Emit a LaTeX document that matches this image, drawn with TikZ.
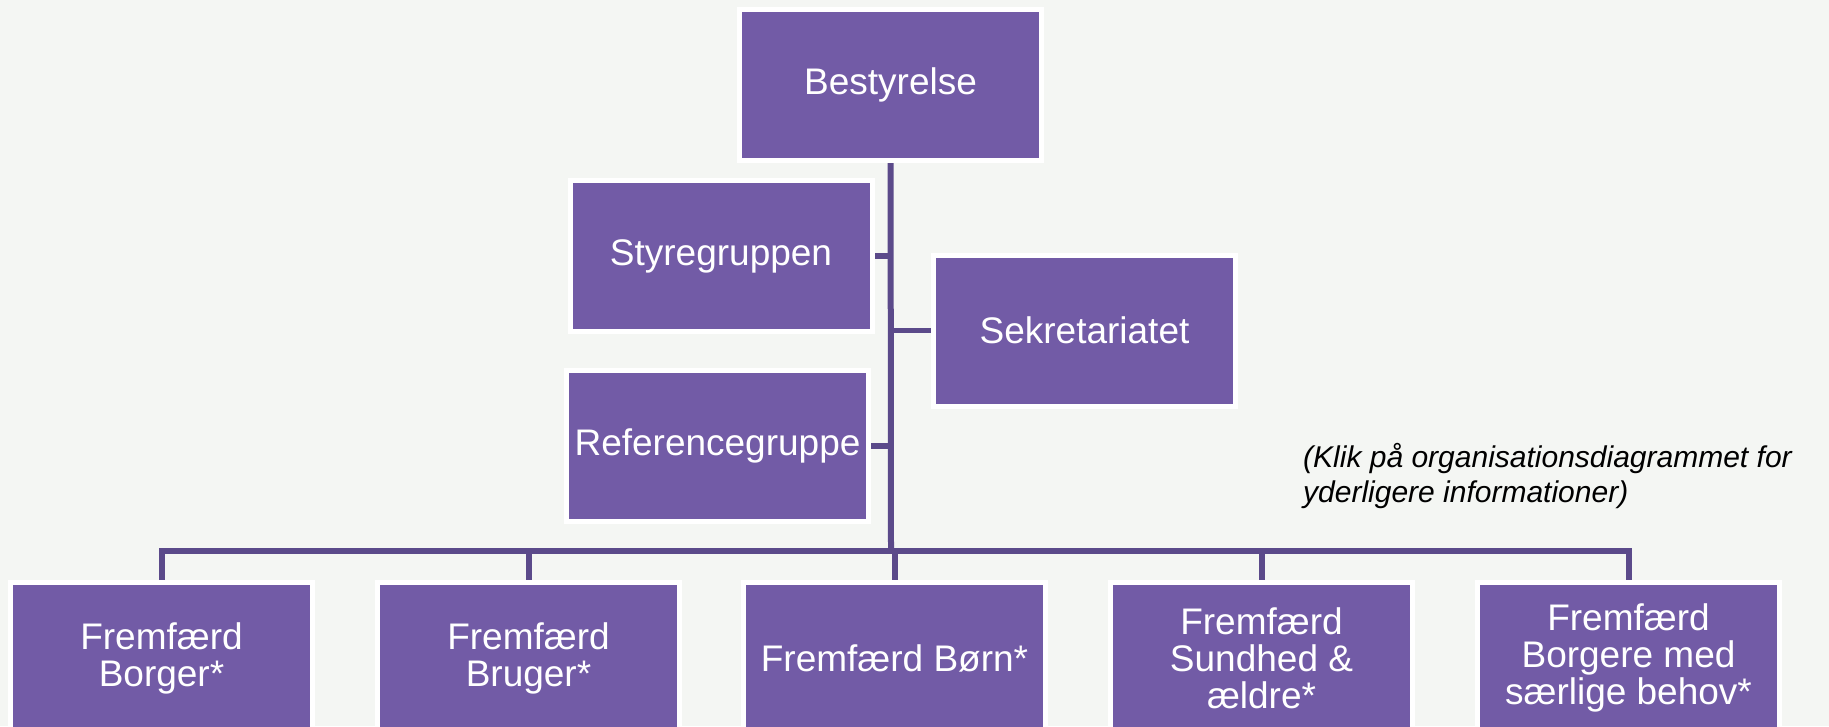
\documentclass[tikz,border=0pt]{standalone}
\usepackage{fontspec}
\setmainfont{Liberation Sans}
\usetikzlibrary{backgrounds}
\definecolor{bg}{HTML}{F4F6F3}
\definecolor{boxfill}{HTML}{725BA6}
\definecolor{conn}{HTML}{5B4A8A}
\begin{document}
\begin{tikzpicture}[x=1pt,y=-1pt,
  orgbox/.style={rectangle, fill=boxfill, draw=white, line width=5pt,
    minimum width=302pt, minimum height=151pt, inner sep=0pt,
    text=white, align=center, font=\fontsize{37}{37}\selectfont},
  link/.style={draw=conn, line width=6pt},
  tick/.style={draw=conn, line width=5.5pt},
  note/.style={anchor=north west, align=left, inner sep=0pt,
    font=\fontsize{30}{35}\selectfont\itshape, text=black}]
\clip (0,0) rectangle (1829,726);
% boxes
\node[orgbox] (best) at (890.5,85) {Bestyrelse};
\node[orgbox] (styr) at (721,256) {Styregruppen};
\node[orgbox] (sek) at (1084.5,330.5) {Sekretariatet};
\node[orgbox] (ref) at (717.5,446) {Referencegruppe};
\node[orgbox] (b1) at (161.5,658) {Fremfærd\\Borger*};
\node[orgbox] (b2) at (528.5,658) {Fremfærd\\Bruger*};
\node[orgbox] (b3) at (894.5,658) {Fremfærd Børn*};
\node[orgbox] (b4) at (1261.5,658) {Fremfærd\\Sundhed \&\\ældre*};
\node[orgbox] (b5) at (1628.5,658) {Fremfærd\\Borgere med\\særlige behov*};
\node[note] (info) at (1303,443) {(Klik på organisationsdiagrammet for\\yderligere informationer)};
\coordinate (hub) at (891,551);
\begin{scope}[on background layer]
  \fill[bg] (0,0) rectangle (1829,726);
  \draw[link] (best) -- (hub);
  \draw[tick] (styr.east) -- (styr.east -| hub);
  \draw[tick] (hub |- sek.west) -- (sek.west);
  \draw[tick] (ref.east) -- ([xshift=2pt]ref.east -| hub);
  \draw[link] (hub) -| (b1.north);
  \draw[link] (hub) -| (b2.north);
  \draw[link] (hub) -| (b3.north);
  \draw[link] (hub) -| (b4.north);
  \draw[link] (hub) -| (b5.north);
\end{scope}
\end{tikzpicture}
\end{document}
